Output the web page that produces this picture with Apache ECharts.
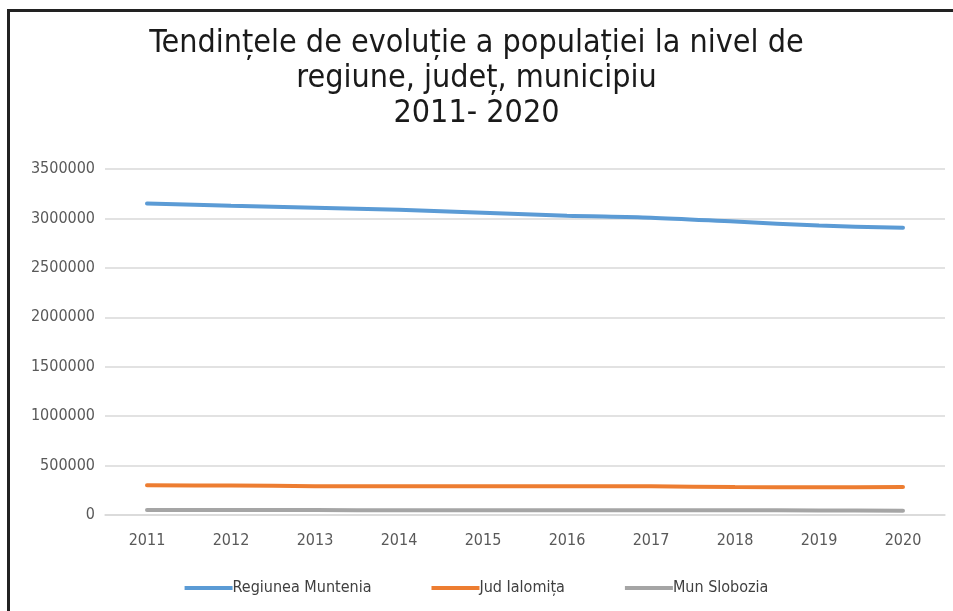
<!DOCTYPE html>
<html>
<head>
<meta charset="utf-8">
<script src="https://cdn.jsdelivr.net/npm/echarts@6/dist/echarts.min.js"></script>
<style>
  html, body { margin: 0; padding: 0; background: #fff; }
  #frame { position: absolute; left: 7px; top: 9px; width: 960px; height: 620px;
           border-left: 3px solid #222; border-top: 3px solid #222; }
  #chart { position: absolute; left: 0; top: 0; width: 953px; height: 611px; }
</style>
</head>
<body>
<div id="frame"></div>
<div id="chart"></div>
<script>
var years = ['2011', '2012', '2013', '2014', '2015', '2016', '2017', '2018', '2019', '2020'];
var muntenia = [3150000, 3128000, 3108000, 3088000, 3058000, 3028000, 3008000, 2968000, 2928000, 2905000];
var ialomita = [300000, 298000, 292000, 291000, 290000, 290000, 290000, 283000, 281000, 282000];
var slobozia = [50000, 50000, 49500, 49000, 48500, 48000, 48000, 47500, 46500, 42000];
var seriesNames = ['Regiunea Muntenia', 'Jud Ialomița', 'Mun Slobozia'];

var chart = echarts.init(document.getElementById('chart'));
var labelFont = '"Liberation Sans Narrow", "DejaVu Sans Condensed", sans-serif';

function line(name, data, color) {
  return {
    name: name,
    type: 'line',
    data: data,
    smooth: 0.3,
    symbol: 'none',
    lineStyle: { width: 4, color: color, cap: 'round' },
    itemStyle: { color: color }
  };
}

chart.setOption({
  backgroundColor: 'transparent',
  title: {
    text: 'Tendințele de evoluție a populației la nivel de\nregiune, județ, municipiu\n2011- 2020',
    left: 'center',
    top: 21,
    textStyle: {
      fontFamily: labelFont,
      fontSize: 32,
      fontWeight: 'normal',
      color: '#1a1a1a',
      lineHeight: 35
    }
  },
  grid: { left: 105, right: 8, top: 169, bottom: 96, containLabel: false },
  legend: {
    bottom: 10,
    left: 'center',
    itemWidth: 48,
    itemHeight: 4,
    itemGap: 60,
    icon: 'rect',
    textStyle: { fontFamily: labelFont, fontSize: 16, color: '#404040', padding: [0, 0, 0, -5] },
    data: seriesNames
  },
  xAxis: {
    type: 'category',
    data: years,
    boundaryGap: true,
    axisLine: { show: true, lineStyle: { color: '#d9d9d9', width: 1.5 } },
    axisTick: { show: false },
    axisLabel: { fontFamily: labelFont, fontSize: 16, color: '#595959', margin: 18 }
  },
  yAxis: {
    type: 'value',
    min: 0,
    max: 3500000,
    interval: 500000,
    axisLine: { show: false },
    axisTick: { show: false },
    axisLabel: {
      fontFamily: labelFont, fontSize: 16, color: '#595959', margin: 10,
      formatter: function (v) { return String(v); }
    },
    splitLine: { lineStyle: { color: '#d9d9d9', width: 1.5 } }
  },
  series: [
    line(seriesNames[0], muntenia, '#5b9bd5'),
    line(seriesNames[1], ialomita, '#ed7d31'),
    line(seriesNames[2], slobozia, '#a5a5a5')
  ]
});
</script>
</body>
</html>
